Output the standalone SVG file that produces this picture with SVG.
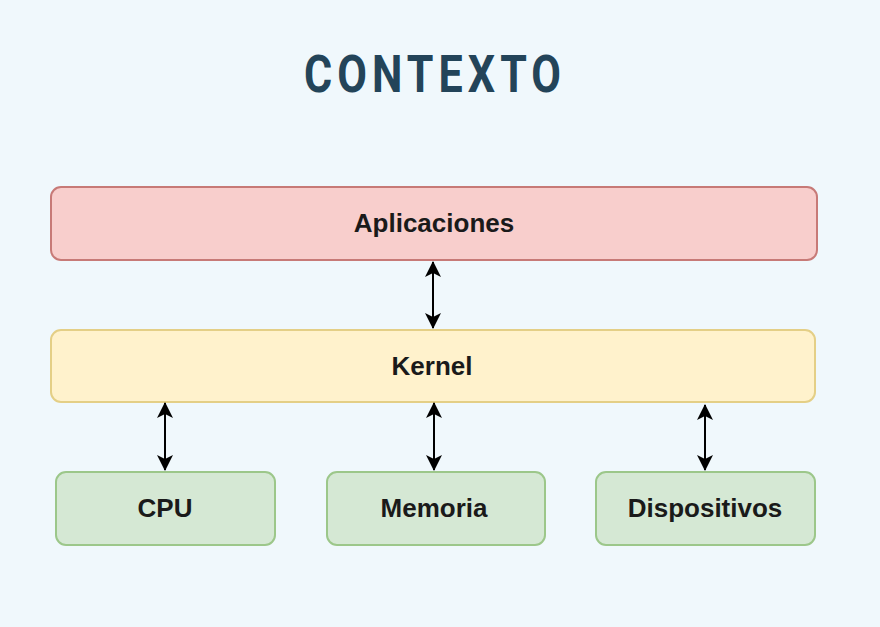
<svg xmlns="http://www.w3.org/2000/svg" width="880" height="627" viewBox="0 0 880 627">
<style>
.lbl{font-family:"Liberation Sans",Arial,sans-serif;font-weight:bold;font-size:26px;fill:#1a1a1a;text-anchor:middle;dominant-baseline:central}
.title{font-family:Roboto,"Liberation Sans",sans-serif;font-weight:bold;font-size:51px;fill:#234459;letter-spacing:6px}
.conn{stroke:#000;stroke-width:2;fill:none;marker-start:url(#ah);marker-end:url(#ah)}
</style>
<defs>
<marker id="ah" viewBox="0 0 16 16" refX="15" refY="8" markerWidth="16" markerHeight="16" markerUnits="userSpaceOnUse" orient="auto-start-reverse">
<path d="M0,0 L16,8 L0,16 L4,8 Z" fill="#000"/>
</marker>
</defs>
<rect width="880" height="627" fill="#f0f8fc"/>
<text class="title" x="304" y="92" textLength="262" lengthAdjust="spacingAndGlyphs">CONTEXTO</text>
<g id="aplicaciones">
<rect x="51" y="187" width="766" height="73" rx="10" fill="#f8cecc" stroke="#c77a77" stroke-width="2"/>
<text class="lbl" x="434" y="223">Aplicaciones</text>
</g>
<g id="kernel">
<rect x="51" y="330" width="764" height="72" rx="10" fill="#fff2cc" stroke="#e4cf86" stroke-width="2"/>
<text class="lbl" x="432" y="366">Kernel</text>
</g>
<g id="cpu">
<rect x="56" y="472" width="219" height="73" rx="10" fill="#d5e8d4" stroke="#9cc78a" stroke-width="2"/>
<text class="lbl" x="165" y="508">CPU</text>
</g>
<g id="memoria">
<rect x="327" y="472" width="218" height="73" rx="10" fill="#d5e8d4" stroke="#9cc78a" stroke-width="2"/>
<text class="lbl" x="434" y="508">Memoria</text>
</g>
<g id="dispositivos">
<rect x="596" y="472" width="219" height="73" rx="10" fill="#d5e8d4" stroke="#9cc78a" stroke-width="2"/>
<text class="lbl" x="705" y="508">Dispositivos</text>
</g>
<g id="connectors">
<path class="conn" d="M433,262 L433,328"/>
<path class="conn" d="M165,403 L165,470"/>
<path class="conn" d="M434,403 L434,470"/>
<path class="conn" d="M705,405 L705,470"/>
</g>
</svg>
